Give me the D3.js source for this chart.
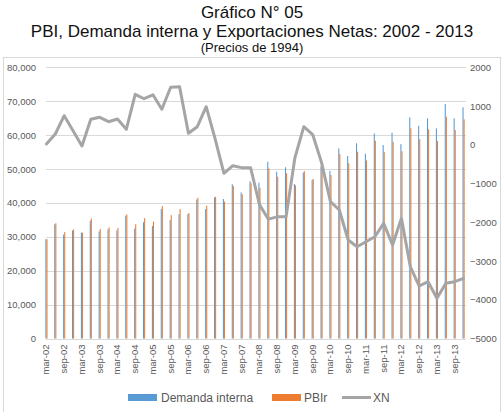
<!DOCTYPE html>
<html>
<head>
<meta charset="utf-8">
<script src="https://cdn.jsdelivr.net/npm/d3@7/dist/d3.min.js"></script>
<style>
  body { margin: 0; background: #fff; }
  text { font-family: "Liberation Sans", Arial, sans-serif; }
</style>
</head>
<body>
<svg id="chart" width="504" height="412"></svg>
<script>
// trimestres 2002 - 2013
const quarters = [
  "mar-02","jun-02","sep-02","dic-02","mar-03","jun-03","sep-03","dic-03",
  "mar-04","jun-04","sep-04","dic-04","mar-05","jun-05","sep-05","dic-05",
  "mar-06","jun-06","sep-06","dic-06","mar-07","jun-07","sep-07","dic-07",
  "mar-08","jun-08","sep-08","dic-08","mar-09","jun-09","sep-09","dic-09",
  "mar-10","jun-10","sep-10","dic-10","mar-11","jun-11","sep-11","dic-11",
  "mar-12","jun-12","sep-12","dic-12","mar-13","jun-13","sep-13","dic-13"
];
const demandaInterna = [
  29300,33700,30650,31850,31230,34750,31600,32200,31900,36200,32400,34300,
  33200,38200,34900,36700,36700,41000,38200,41650,41150,45500,43100,46400,
  45960,52150,49200,50500,45550,48950,46800,50800,49450,56100,53830,57580,
  54500,60520,57080,60700,57330,65250,62760,64950,62000,69170,64950,68200
];
const pbiReal = [
  29300,34000,31400,32200,31200,35400,32300,32800,32600,36600,33700,35500,
  34500,39100,36400,38200,37000,41500,39200,41800,40400,45000,42550,45800,
  44480,50200,47730,48720,45200,49400,47050,50300,48230,54400,51700,55100,
  52500,58350,55000,58050,55250,62000,58760,61710,58260,65430,61500,64660
];
const exportNetas = [
  20,278,751,364,-31,657,709,596,665,400,1303,1189,
  1290,916,1484,1500,296,467,983,160,-736,-540,-590,-590,
  -1540,-1920,-1860,-1860,-330,467,265,-460,-1469,-1684,-2458,-2631,
  -2502,-2373,-2027,-2587,-1898,-3147,-3645,-3534,-3963,-3576,-3534,-3447
];
const leftTicks = [0,10000,20000,30000,40000,50000,60000,70000,80000];
const rightTicks = [-5000,-4000,-3000,-2000,-1000,0,1000,2000];
const seriesNames = ["Demanda interna", "PBIr"];

const colors = { di: "#5b9bd5", pbi: "#ed7d31", xn: "#a5a5a5", grid: "#d9d9d9", text: "#595959" };

const svg = d3.select("#chart");
const plot = { left: 42, right: 468, top: 67.3, bottom: 338.5 };

// marco del gráfico
svg.append("rect")
  .attr("x", 3.5).attr("y", 57.5)
  .attr("width", 497).attr("height", 360)
  .attr("fill", "none").attr("stroke", colors.grid);

// títulos
svg.append("text").attr("x", 252).attr("y", 18).attr("text-anchor", "middle")
  .attr("font-size", 17).attr("fill", "#111").text("Gráfico N° 05");
svg.append("text").attr("x", 252).attr("y", 37).attr("text-anchor", "middle")
  .attr("font-size", 17).attr("fill", "#111").text("PBI, Demanda interna y Exportaciones Netas: 2002 - 2013");
svg.append("text").attr("x", 252).attr("y", 52).attr("text-anchor", "middle")
  .attr("font-size", 13).attr("fill", "#111").text("(Precios de 1994)");

const x = d3.scaleBand().domain(quarters).range([plot.left, plot.right]).paddingInner(0.76).paddingOuter(0.38);
const xs = d3.scaleBand().domain(seriesNames).range([0, x.bandwidth()]);
const y = d3.scaleLinear().domain([0, 80000]).range([plot.bottom, plot.top]);
const y2 = d3.scaleLinear().domain([-5000, 2000]).range([plot.bottom, plot.top]);
const cx = d => x(d) + x.bandwidth() / 2;

// líneas de cuadrícula
svg.append("g").selectAll("line").data(leftTicks).join("line")
  .attr("x1", plot.left + 4).attr("x2", plot.right - 2)
  .attr("y1", d => Math.round(y(d)) + 0.5).attr("y2", d => Math.round(y(d)) + 0.5)
  .attr("stroke", colors.grid).attr("stroke-width", 1);

// eje izquierdo
const yAxis = d3.axisLeft(y).tickValues(leftTicks).tickFormat(d3.format(",")).tickSize(0).tickPadding(6);
const gy = svg.append("g").attr("transform", `translate(${plot.left},0)`).call(yAxis);
gy.select(".domain").remove();
gy.selectAll("text").attr("fill", colors.text).attr("font-size", 9.5)
  .style("font-family", "'Liberation Sans', Arial, sans-serif");

// eje derecho
const y2Axis = d3.axisRight(y2).tickValues(rightTicks).tickFormat(d3.format("d")).tickSize(0).tickPadding(2);
const gy2 = svg.append("g").attr("transform", `translate(${plot.right},0)`).call(y2Axis);
gy2.select(".domain").remove();
gy2.selectAll("text").attr("fill", colors.text).attr("font-size", 9.5)
  .style("font-family", "'Liberation Sans', Arial, sans-serif");

// barras
const rows = quarters.map((q, i) => ({ q, vals: [demandaInterna[i], pbiReal[i]] }));
const groups = svg.append("g").selectAll("g").data(rows).join("g")
  .attr("transform", d => `translate(${x(d.q)},0)`);
groups.selectAll("rect").data(d => d.vals.map((v, k) => ({ name: seriesNames[k], v }))).join("rect")
  .attr("x", d => xs(d.name))
  .attr("width", xs.bandwidth())
  .attr("y", d => y(d.v))
  .attr("height", d => y(0) - y(d.v))
  .attr("fill", d => d.name === "PBIr" ? colors.pbi : colors.di);

// eje x
svg.append("line").attr("x1", plot.left + 4).attr("x2", plot.right - 2)
  .attr("y1", Math.round(y(0)) + 0.5).attr("y2", Math.round(y(0)) + 0.5)
  .attr("stroke", colors.grid);
svg.append("g").selectAll("text").data(quarters.filter((q, i) => i % 2 === 0)).join("text")
  .attr("transform", d => `translate(${cx(d) + 3},${plot.bottom + 6}) rotate(-90)`)
  .attr("text-anchor", "end")
  .attr("font-size", 9.5).attr("fill", colors.text)
  .text(d => d);

// línea XN
const line = d3.line().x((d, i) => cx(quarters[i])).y(d => y2(d));
svg.append("path").datum(exportNetas)
  .attr("d", line)
  .attr("fill", "none").attr("stroke", colors.xn)
  .attr("stroke-width", 3).attr("stroke-linejoin", "round").attr("stroke-linecap", "round");

// leyenda
const lg = svg.append("g").attr("font-size", 12).attr("fill", colors.text);
lg.append("rect").attr("x", 128).attr("y", 394).attr("width", 29).attr("height", 7).attr("fill", colors.di);
lg.append("text").attr("x", 161).attr("y", 402).text("Demanda interna");
lg.append("rect").attr("x", 272).attr("y", 394).attr("width", 29).attr("height", 7).attr("fill", colors.pbi);
lg.append("text").attr("x", 304).attr("y", 402).text("PBIr");
lg.append("line").attr("x1", 342).attr("x2", 371).attr("y1", 397.5).attr("y2", 397.5)
  .attr("stroke", colors.xn).attr("stroke-width", 3);
lg.append("text").attr("x", 373).attr("y", 402).text("XN");
</script>
</body>
</html>
